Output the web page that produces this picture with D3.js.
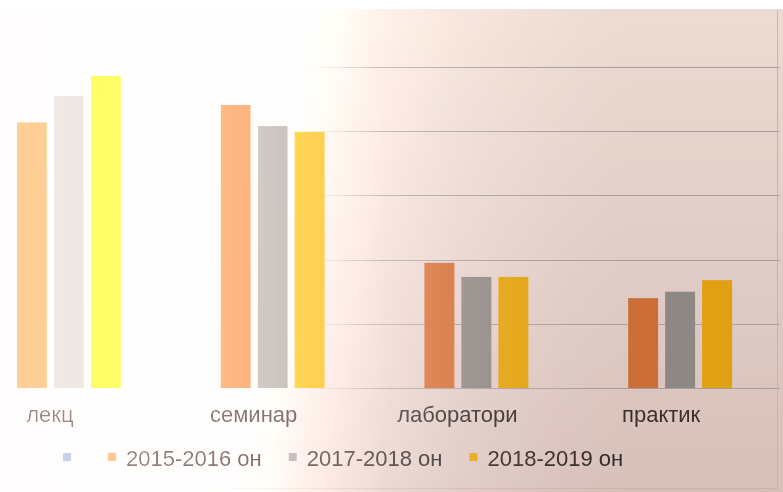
<!DOCTYPE html>
<html>
<head>
<meta charset="utf-8">
<script src="https://cdn.jsdelivr.net/npm/d3@7/dist/d3.min.js"></script>
<style>
  html, body { margin: 0; padding: 0; background: #fff; }
  svg { display: block; }
  .dodge { mix-blend-mode: color-dodge; }
</style>
</head>
<body>
<script>
// ---- data ----
const categories = ["лекц", "семинар", "лаборатори", "практик"];
const seriesNames = ["2015-2016 он", "2017-2018 он", "2018-2019 он"];
const values2015 = [41.4, 44.1, 19.5, 14.0];
const values2017 = [45.5, 40.8, 17.3, 15.0];
const values2018 = [48.6, 39.9, 17.3, 16.8];
const legendLabels = ["", "2015-2016 он", "2017-2018 он", "2018-2019 он"];
const yTicks = [0, 10, 20, 30, 40, 50];

const seriesValues = [values2015, values2017, values2018];
const seriesColors = ["#CD6E38", "#8E8884", "#E0A012"];
const legendColors = ["#66728A", "#CD6E38", "#8E8884", "#E0A012"];

const W = 783, H = 492;
const svg = d3.select("body").append("svg").attr("width", W).attr("height", H);
const defs = svg.append("defs");

// paper background (warm, darker toward bottom)
const bgGrad = defs.append("linearGradient").attr("id", "bg")
  .attr("x1", 0).attr("y1", 0).attr("x2", 0).attr("y2", 1);
bgGrad.append("stop").attr("offset", 0).attr("stop-color", "#EDDCD3");
bgGrad.append("stop").attr("offset", 0.5).attr("stop-color", "#E1CDC7");
bgGrad.append("stop").attr("offset", 1).attr("stop-color", "#D6C0BA");
svg.append("rect").attr("width", W).attr("height", H).attr("fill", "url(#bg)");

// scales
const x0 = d3.scaleBand().domain(categories).range([-33, 782]).padding(0);
const x1 = d3.scaleBand().domain(seriesNames).range([0, x0.bandwidth()])
  .paddingInner(0.19).paddingOuter(1.35);
const y = d3.scaleLinear().domain([0, 50]).range([388, 67]);

// gridlines (washed out on the over-lit left part of the photo)
const gl = defs.append("linearGradient").attr("id", "gridFade")
  .attr("gradientUnits", "userSpaceOnUse")
  .attr("x1", 0).attr("y1", 0).attr("x2", W).attr("y2", 0);
gl.append("stop").attr("offset", 300 / W).attr("stop-color", "#A89E9A").attr("stop-opacity", 0);
gl.append("stop").attr("offset", 380 / W).attr("stop-color", "#A89E9A").attr("stop-opacity", 1);
gl.append("stop").attr("offset", 1).attr("stop-color", "#A89E9A").attr("stop-opacity", 1);
svg.append("g").selectAll("rect").data(yTicks).join("rect")
  .attr("x", x0.range()[0]).attr("width", 780 - x0.range()[0])
  .attr("y", d => Math.round(y(d))).attr("height", 1)
  .attr("fill", "url(#gridFade)");

// bars
const groups = svg.append("g").selectAll("g").data(categories).join("g")
  .attr("transform", c => `translate(${x0(c)},0)`);
groups.selectAll("rect")
  .data((c, ci) => seriesNames.map((s, si) => ({ s, si, v: seriesValues[si][ci] })))
  .join("rect")
  .attr("x", d => x1(d.s))
  .attr("width", x1.bandwidth())
  .attr("y", d => y(d.v))
  .attr("height", d => y(0) - y(d.v))
  .attr("fill", d => seriesColors[d.si]);

// category labels
const xAxis = d3.axisBottom(x0).tickSize(0).tickPadding(0);
const axG = svg.append("g").attr("transform", `translate(0,${y(0)})`).call(xAxis);
axG.select(".domain").remove();
axG.selectAll("text")
  .attr("dx", -19).attr("dy", 0).attr("y", 34)
  .attr("fill", "#3A3030")
  .style("font-family", "'Liberation Sans', Arial, sans-serif")
  .style("font-size", "22px");

// legend
const leg = svg.append("g").attr("transform", "translate(63,0)");
let lx = 0;
legendLabels.forEach((lab, i) => {
  leg.append("rect").attr("x", lx).attr("y", 453).attr("width", 8).attr("height", 8)
    .attr("fill", legendColors[i]);
  const t = leg.append("text").attr("x", lx + 18).attr("y", 466)
    .attr("fill", "#362C2C")
    .style("font-family", "'Liberation Sans', Arial, sans-serif")
    .style("font-size", "22px")
    .text(lab);
  const w = lab ? t.node().getComputedTextLength() : 0;
  lx += 18 + w + 27;
});

// page frame edges
svg.append("line").attr("x1", 777.5).attr("x2", 777.5).attr("y1", 10).attr("y2", 488)
  .attr("stroke", "#C9B2AA");
svg.append("line").attr("x1", 0).attr("x2", 778).attr("y1", 488.5).attr("y2", 488.5)
  .attr("stroke", "#C9B2AA");

// lighting (overexposure toward the left), via colour-dodge
const lg = defs.append("linearGradient").attr("id", "light")
  .attr("gradientUnits", "userSpaceOnUse")
  .attr("x1", 0).attr("y1", 0).attr("x2", W).attr("y2", 0);
[[0, 0.40], [150, 0.37], [270, 0.24], [330, 0.15], [390, 0.08], [460, 0.04], [560, 0.01], [630, 0]]
  .forEach(([px, b]) => {
    const g = Math.round(b * 255);
    lg.append("stop").attr("offset", px / W).attr("stop-color", `rgb(${g},${g},${g})`);
  });
svg.append("rect").attr("class", "dodge").attr("width", W).attr("height", H)
  .attr("fill", "url(#light)");

// haze: the glare also lifts the darks on the left
const hz = defs.append("linearGradient").attr("id", "haze")
  .attr("gradientUnits", "userSpaceOnUse")
  .attr("x1", 0).attr("y1", 0).attr("x2", W).attr("y2", 0);
[[0, 0.36], [200, 0.32], [330, 0.26], [420, 0.15], [500, 0.06], [600, 0.0]]
  .forEach(([px, o]) => {
    hz.append("stop").attr("offset", px / W).attr("stop-color", "#FFFCFA").attr("stop-opacity", o);
  });
svg.append("rect").attr("width", W).attr("height", H).attr("fill", "url(#haze)");

// white strip at the top edge of the paper
svg.append("rect").attr("x", 0).attr("y", 0).attr("width", W).attr("height", 9).attr("fill", "#fff");
</script>
</body>
</html>
